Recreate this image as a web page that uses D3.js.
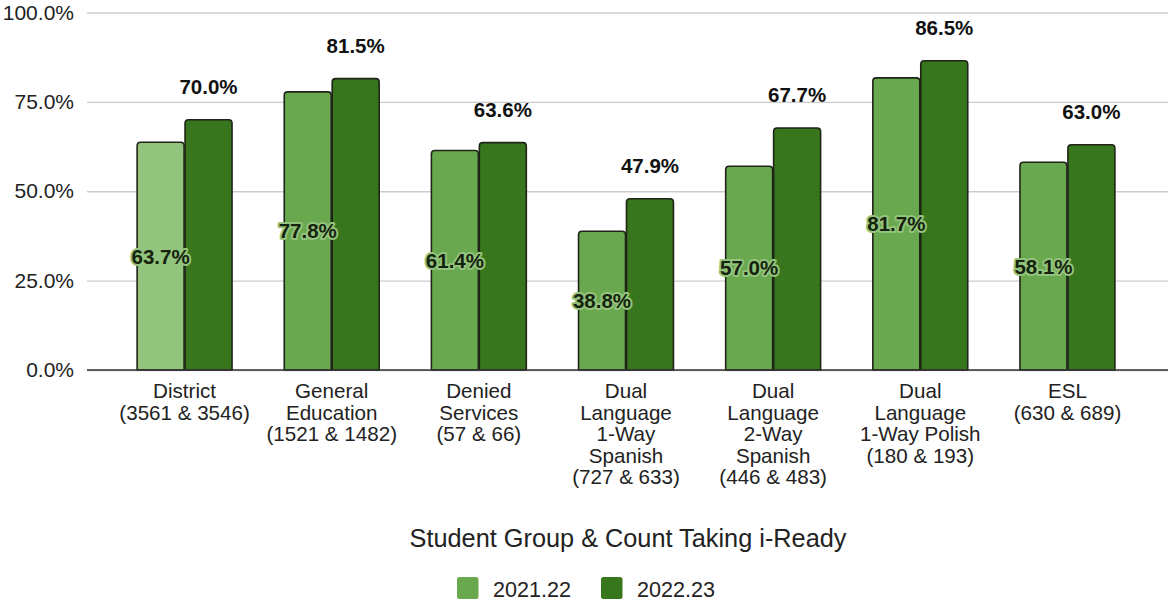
<!DOCTYPE html>
<html>
<head>
<meta charset="utf-8">
<script src="https://cdn.jsdelivr.net/npm/d3@7"></script>
<style>
  html, body { margin: 0; padding: 0; background: #fff; }
  svg { display: block; font-family: "Liberation Sans", Arial, sans-serif; }
</style>
</head>
<body>
<svg id="chart" width="1170" height="601"></svg>
<script>
// Student groups (label lines) and i-Ready percentages for the two school years
const categories = [
  ["District", "(3561 & 3546)"],
  ["General", "Education", "(1521 & 1482)"],
  ["Denied", "Services", "(57 & 66)"],
  ["Dual", "Language", "1-Way", "Spanish", "(727 & 633)"],
  ["Dual", "Language", "2-Way", "Spanish", "(446 & 483)"],
  ["Dual", "Language", "1-Way Polish", "(180 & 193)"],
  ["ESL", "(630 & 689)"]
];
const seriesNames = ["2021.22", "2022.23"];
const values2021 = [63.7, 77.8, 61.4, 38.8, 57.0, 81.7, 58.1];
const values2022 = [70.0, 81.5, 63.6, 47.9, 67.7, 86.5, 63.0];
const yTicks = [0, 25, 50, 75, 100];
const axisTitle = "Student Group & Count Taking i-Ready";

const svg = d3.select("#chart");
const gridLeft = 87, gridRight = 1168;
const plotTop = 12.5, plotBottom = 370;

const y = d3.scaleLinear().domain([0, 100]).range([plotBottom, plotTop]);

const groupKeys = categories.map((c, i) => i);
const x0 = d3.scaleBand().domain(groupKeys).range([111, 1141])
  .paddingInner(0.355).paddingOuter(0.1775);
const x1 = d3.scaleBand().domain(seriesNames).range([0, x0.bandwidth()]).paddingInner(0.02);

const colors = { "2021.22": "#6aa84f", "2022.23": "#38761d" };
const barFill = (s, i) => (s === "2021.22" && i === 0) ? "#93c47d" : colors[s];

// Gridlines and y tick labels
const yAxis = d3.axisLeft(y).tickValues(yTicks).tickSize(-(gridRight - gridLeft))
  .tickFormat(d => d.toFixed(1) + "%").tickPadding(13);
const gy = svg.append("g").attr("transform", `translate(${gridLeft},0)`).call(yAxis);
gy.select(".domain").remove();
gy.selectAll(".tick line").attr("stroke", "#cccccc").attr("stroke-width", 1.3);
gy.selectAll(".tick text").attr("fill", "#222").style("font-size", "21px")
  .attr("font-family", "'Liberation Sans', Arial, sans-serif");

// Bars
const rows = groupKeys.map(i => ({ i, vals: [values2021[i], values2022[i]] }));
const groups = svg.append("g").selectAll("g").data(rows).join("g")
  .attr("transform", d => `translate(${x0(d.i)},0)`);

groups.selectAll("path.bar").data(d => d.vals.map((v, k) => ({ i: d.i, s: seriesNames[k], v })))
  .join("path").attr("class", "bar")
  .attr("d", d => {
    const x = x1(d.s), w = x1.bandwidth(), yt = y(d.v), yb = y(0), r = 3.5;
    return `M${x},${yb}V${yt + r}Q${x},${yt} ${x + r},${yt}H${x + w - r}Q${x + w},${yt} ${x + w},${yt + r}V${yb}Z`;
  })
  .attr("fill", d => barFill(d.s, d.i))
  .attr("stroke", "#1e2418").attr("stroke-width", 1.6);

// Baseline
svg.append("line").attr("x1", gridLeft).attr("x2", gridRight)
  .attr("y1", y(0)).attr("y2", y(0)).attr("stroke", "#333").attr("stroke-width", 1.6);

// 2021.22 values: centred inside the bar with a light green halo
groups.append("text")
  .attr("x", d => x1("2021.22") + x1.bandwidth() / 2)
  .attr("y", d => (y(d.vals[0]) + y(0)) / 2)
  .attr("dy", "0.36em").attr("text-anchor", "middle")
  .style("font-size", "20.5px").style("font-weight", "bold")
  .attr("fill", "#15230d")
  .attr("stroke", "#93c47d").attr("stroke-width", 4).attr("stroke-linejoin", "round")
  .attr("paint-order", "stroke")
  .text(d => d.vals[0].toFixed(1) + "%");

// 2022.23 values: above the bar
groups.append("text")
  .attr("x", d => x1("2022.23") + x1.bandwidth() / 2)
  .attr("y", d => y(d.vals[1]) - 26)
  .attr("text-anchor", "middle")
  .style("font-size", "20.5px").style("font-weight", "bold")
  .attr("fill", "#111")
  .text(d => d.vals[1].toFixed(1) + "%");

// Category labels
const lineH = 21.6;
groups.append("text")
  .attr("text-anchor", "middle").attr("fill", "#222").style("font-size", "20.6px")
  .each(function (d) {
    const t = d3.select(this);
    categories[d.i].forEach((line, k) => {
      t.append("tspan").attr("x", x0.bandwidth() / 2).attr("y", 398 + k * lineH).text(line);
    });
  });

// Axis title
svg.append("text").attr("x", 628).attr("y", 547).attr("text-anchor", "middle")
  .attr("fill", "#222").style("font-size", "25.3px").text(axisTitle);

// Legend
const legendX = [457, 601];
const lg = svg.append("g").selectAll("g").data(seriesNames).join("g")
  .attr("transform", (d, i) => `translate(${legendX[i]},577)`);
lg.append("rect").attr("width", 21.5).attr("height", 22).attr("rx", 2.5)
  .attr("fill", d => colors[d]);
lg.append("text").attr("x", 36).attr("y", 20).attr("fill", "#222")
  .style("font-size", "21.6px").text(d => d);
</script>
</body>
</html>
